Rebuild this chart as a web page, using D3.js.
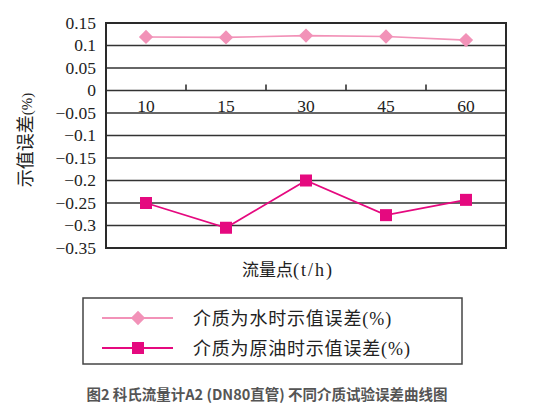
<!DOCTYPE html>
<html><head><meta charset="utf-8">
<script src="https://cdn.jsdelivr.net/npm/d3@7"></script>
<style>body{margin:0;background:#fff}svg{display:block}</style>
</head><body>
<script>
const categories = ["10","15","30","45","60"];
const waterValues = [0.119, 0.118, 0.122, 0.120, 0.112];
const oilValues = [-0.250, -0.305, -0.200, -0.277, -0.243];
const yTicks = [0.15,0.1,0.05,0,-0.05,-0.1,-0.15,-0.2,-0.25,-0.3,-0.35];
const seriesNames = ["介质为水时示值误差","介质为原油时示值误差"];
const unitText = "(%)";
const yTitle = "示值误差";
const xTitle = "流量点";
const xUnit = "(t/h)";
const caption = "图2 科氏流量计A2 (DN80直管) 不同介质试验误差曲线图";

const W=557,H=407;
const svg=d3.select("body").append("svg").attr("width",W).attr("height",H);
const L=106,R=506,T=23,B=248;
const x=d3.scaleBand().domain(categories).range([L,R]);
const y=d3.scaleLinear().domain([-0.35,0.15]).range([B,T]);
const waterColor="#f292b8", oilColor="#e5097f";
const serif="'Liberation Serif','DejaVu Serif',serif";
const sans="'Noto Sans CJK SC','Noto Sans',sans-serif";

svg.append("g").selectAll("line").data(yTicks).join("line")
  .attr("x1",L).attr("x2",R).attr("y1",d=>y(d)).attr("y2",d=>y(d))
  .attr("stroke","#333").attr("stroke-width",1.7);
svg.append("rect").attr("x",L).attr("y",T).attr("width",R-L).attr("height",B-T)
  .attr("fill","none").attr("stroke","#2a2a2a").attr("stroke-width",2);
const fmt=d=>d===0?"0":(d<0?"\u2212":"")+String(Math.abs(d));
svg.append("g").selectAll("text").data(yTicks).join("text")
  .attr("x",96).attr("y",d=>y(d)+5.5).attr("text-anchor","end")
  .attr("font-family",serif).attr("font-size",17.5).attr("fill","#222")
  .text(fmt);
const bounds=categories.slice(1).map(c=>x(c));
svg.append("g").selectAll("line").data(bounds).join("line")
  .attr("x1",d=>d).attr("x2",d=>d).attr("y1",y(0)).attr("y2",y(0)-6)
  .attr("stroke","#333").attr("stroke-width",1.6);
svg.append("g").selectAll("text").data(categories).join("text")
  .attr("x",d=>x(d)+x.bandwidth()/2).attr("y",y(0)+21).attr("text-anchor","middle")
  .attr("font-family",serif).attr("font-size",17.5).attr("fill","#222").text(d=>d);

const cx=d=>x(d)+x.bandwidth()/2;
const line=d3.line().x((d,i)=>cx(categories[i])).y(d=>y(d));
svg.append("path").attr("d",line(waterValues)).attr("fill","none").attr("stroke",waterColor).attr("stroke-width",1.6);
svg.append("path").attr("d",line(oilValues)).attr("fill","none").attr("stroke",oilColor).attr("stroke-width",1.8);
const diamond=d3.symbol().type(d3.symbolDiamond2).size(130);
svg.append("g").selectAll("path").data(waterValues).join("path")
  .attr("d",diamond).attr("transform",(d,i)=>`translate(${cx(categories[i])},${y(d)})`).attr("fill",waterColor);
svg.append("g").selectAll("rect").data(oilValues).join("rect")
  .attr("x",(d,i)=>cx(categories[i])-6).attr("y",d=>y(d)-6).attr("width",12).attr("height",12).attr("fill",oilColor);

const yt=svg.append("text").attr("transform","translate(32,140) rotate(-90)").attr("text-anchor","middle")
  .attr("font-family",sans).attr("font-size",18).attr("fill","#222");
yt.append("tspan").text(yTitle);
yt.append("tspan").attr("font-family",serif).attr("font-size",15).text(unitText);
const xt=svg.append("text").attr("x",288).attr("y",276).attr("text-anchor","middle")
  .attr("font-family",sans).attr("font-size",17).attr("fill","#222");
xt.append("tspan").text(xTitle);
xt.append("tspan").attr("font-family",serif).attr("font-size",18).attr("letter-spacing",2).text(xUnit);

svg.append("rect").attr("x",83).attr("y",298).attr("width",379).attr("height",66)
  .attr("fill","#fff").attr("stroke","#444").attr("stroke-width",1.5);
const leg=[{c:waterColor,t:seriesNames[0],y:318,m:"d"},{c:oilColor,t:seriesNames[1],y:348,m:"s"}];
leg.forEach(e=>{
  svg.append("line").attr("x1",102).attr("x2",173).attr("y1",e.y).attr("y2",e.y).attr("stroke",e.c).attr("stroke-width",1.8);
  if(e.m==="d") svg.append("path").attr("d",diamond).attr("transform",`translate(138,${e.y})`).attr("fill",e.c);
  else svg.append("rect").attr("x",132).attr("y",e.y-6).attr("width",12).attr("height",12).attr("fill",e.c);
  const t=svg.append("text").attr("x",193).attr("y",e.y+6.5).attr("font-family",sans).attr("font-size",18).attr("fill","#222");
  t.append("tspan").attr("letter-spacing",0.8).text(e.t);
  t.append("tspan").attr("font-family",serif).attr("font-size",18).attr("letter-spacing",1).text(unitText);
});
svg.append("text").attr("x",267).attr("y",400).attr("text-anchor","middle")
  .attr("font-family",sans).attr("font-weight","bold").attr("font-size",14.5).attr("fill","#555").text(caption);
</script>
</body></html>
